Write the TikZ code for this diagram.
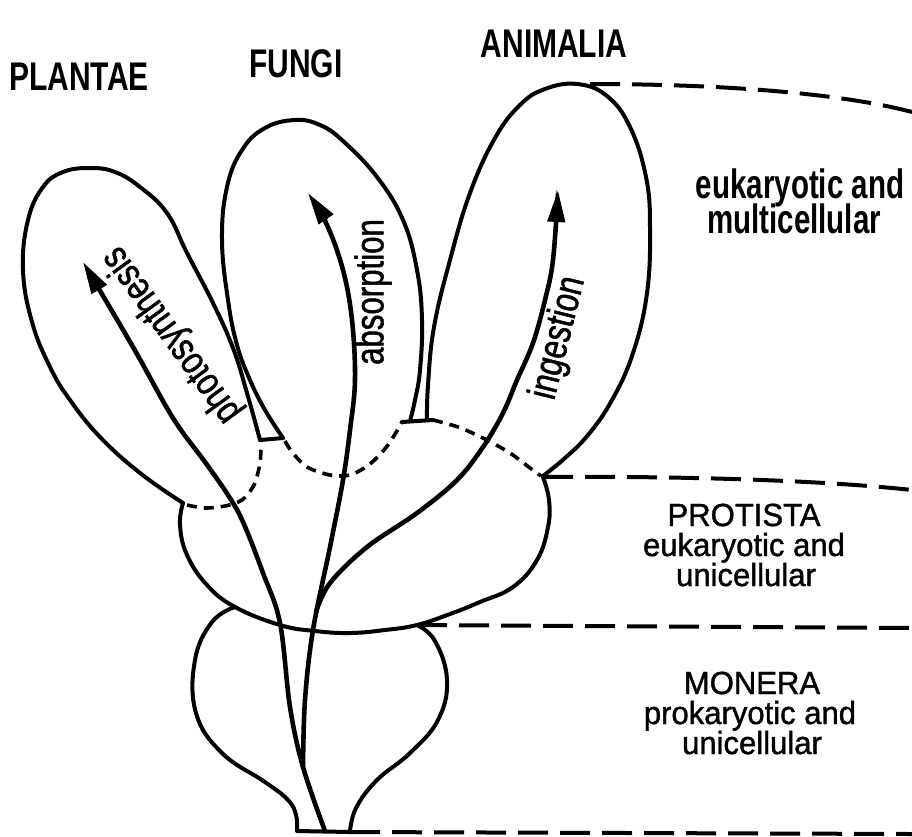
\documentclass[tikz,border=0pt]{standalone}
\usepackage{fontspec}
\setmainfont{Liberation Sans}
\newfontfamily\topfont{Liberation Sans}[FakeStretch=0.75]
\newfontfamily\multfont{Liberation Sans}[FakeStretch=0.72]
\newfontfamily\lowfont{Liberation Sans}[FakeStretch=0.97, FakeBold=1.2]
\newfontfamily\arrfont{Liberation Sans}[FakeStretch=0.78, FakeBold=1.2]
\usetikzlibrary{arrows.meta}
\begin{document}
\begin{tikzpicture}[x=1pt,y=-1pt,
  outline/.style={line width=4pt, line join=round, line cap=round},
  hidden/.style={line width=3.6pt, dash pattern=on 10pt off 7pt},
  level/.style={line width=4pt, dash pattern=on 30pt off 12pt},
  stem/.style={line width=4.6pt, line cap=round},
  flow/.style={stem, -{Triangle[length=32pt,width=17pt]}},
  kingdom/.style={font=\topfont\bfseries\fontsize{40}{42}\selectfont, anchor=base, inner sep=0pt},
  multi/.style={font=\multfont\bfseries\fontsize{41}{43}\selectfont, anchor=base, inner sep=0pt},
  desc/.style={font=\lowfont\fontsize{32}{34}\selectfont, anchor=base, inner sep=0pt},
  along/.style={font=\arrfont\fontsize{40}{42}\selectfont, inner sep=0pt}]
\useasboundingbox (0,0) rectangle (912,836);
\fill[white] (0,0) rectangle (912,836);

% junction coordinates
\coordinate (pL) at (183,503);
\coordinate (pR) at (260,440);
\coordinate (fL) at (283,438);
\coordinate (fR) at (402,422);
\coordinate (aL) at (433,420);
\coordinate (aR) at (543,477);
\coordinate (aTop) at (590,84);
\coordinate (mL) at (235,607);
\coordinate (mR) at (417,625);
\coordinate (bL) at (297,831);
\coordinate (bR) at (350,832);
\coordinate (e1) at (912,112);
\coordinate (e2) at (912,490);
\coordinate (e3) at (912,628);
\coordinate (e4) at (912,834);

% Plantae lobe
\draw[outline] plot[smooth, tension=0.7] coordinates {(183,503) (140,473) (100,437) (70,400) (50,367) (32,322) (23,270) (28,220) (43,187) (63,172) (90,168) (115,172) (140,187) (167,213) (187,253) (213,303) (233,348) (247,393) (260,440)};
\draw[outline] (pR) -- (fL);
\draw[hidden] plot[smooth] coordinates {(187,505) (205,508) (225,506) (242,500) (254,485) (260,463) (261,443)};

% Fungi lobe
\draw[outline] plot[smooth, tension=0.7] coordinates {(283,438) (265,410) (250,380) (237,345) (228,300) (222,240) (227,187) (242,150) (265,128) (295,120) (320,125) (343,141) (377,177) (403,220) (417,270) (422,320) (420,370) (415,400) (410,421)};
\draw[outline] (fR) -- (aL);
\draw[hidden] plot[smooth] coordinates {(285,441) (292,452) (307,467) (330,475) (350,475) (370,464) (388,445) (402,422)};

% Animalia lobe
\draw[outline] plot[smooth, tension=0.7] coordinates {(427,420) (428,385) (434,327) (450,260) (470,193) (495,138) (520,105) (545,89) (577,84) (607,96) (630,127) (646,177) (650,227) (647,293) (633,353) (612,400) (588,435) (565,458) (543,476)};
\draw[hidden] plot[smooth] coordinates {(433,420) (458,427) (483,438) (510,453) (530,468) (541,476)};

% Protista
\draw[outline] plot[smooth, tension=0.7] coordinates {(183,503) (180,525) (187,555) (207,585) (235,607) (280,625) (315,631) (350,633) (385,630) (417,625) (450,614) (480,602) (513,587) (537,560) (548,527) (549,500) (543,477)};

% Monera
\draw[outline] plot[smooth, tension=0.7] coordinates {(235,607) (212,622) (195,660) (196,713) (222,753) (265,782) (288,800) (296,815) (297,831)} -- (bR);
\draw[outline] plot[smooth, tension=0.7] coordinates {(350,832) (356,808) (377,780) (410,753) (438,720) (447,680) (435,641) (417,625)};

% stems and arrows
\draw[flow] plot[smooth, tension=0.6] coordinates {(325,831) (303,767) (290,707) (280,623) (263,573) (243,522) (228,495) (205,462) (173,418) (133,347) (83,262)};
\draw[flow] plot[smooth, tension=0.6] coordinates {(303,767) (305,700) (313,630) (330,547) (343,480) (350,430) (355,380) (352,320) (343,270) (327,225) (308,193)};
\draw[flow] plot[smooth, tension=0.6] coordinates {(316,612) (330,583) (367,547) (417,513) (457,480) (483,447) (503,413) (517,380) (533,343) (545,300) (553,260) (558,190)};

% level lines
\draw[level] (aTop) .. controls (720,84) and (840,93) .. (e1);
\draw[level] (aR) .. controls (680,476) and (820,480) .. (e2);
\draw[level] (mR) -- (e3);
\draw[level] (bR) -- (e4);

% labels
\node[kingdom] (plantae) at (79,90) {PLANTAE};
\node[kingdom] (fungi) at (296,77) {FUNGI};
\node[kingdom] (animalia) at (554,57) {ANIMALIA};
\node[multi] (em1) at (800,198) {eukaryotic and};
\node[multi] (em2) at (794,233) {multicellular};
\node[desc] (p0) at (744,526) {PROTISTA};
\node[desc] (p1) at (744,556) {eukaryotic and};
\node[desc] (p2) at (746,586) {unicellular};
\node[desc] (m0) at (752,694) {MONERA};
\node[desc] (m1) at (750,724) {prokaryotic and};
\node[desc] (m2) at (752,754) {unicellular};
\node[along, rotate=126] (lp) at (172,335) {photosynthesis};
\node[along, rotate=90] (la) at (373,292) {absorption};
\node[along, rotate=76] (li) at (559,338) {ingestion};
\end{tikzpicture}
\end{document}
